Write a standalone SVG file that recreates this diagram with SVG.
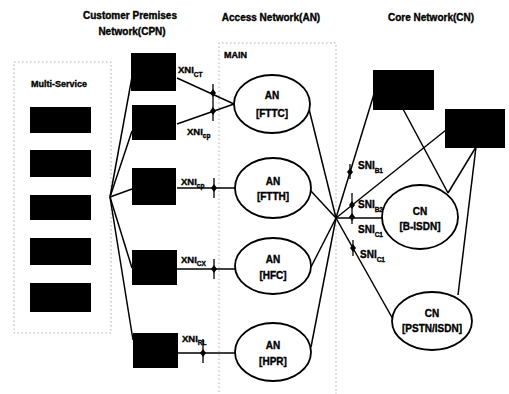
<svg xmlns="http://www.w3.org/2000/svg" width="509" height="394" viewBox="0 0 509 394">
<style>
text{font-family:"Liberation Sans",Arial,sans-serif;font-weight:bold;fill:#000;stroke:#000;stroke-width:0.35}
.h{font-size:10px;text-anchor:middle}
.lbl{font-size:10px;text-anchor:middle}
.x{font-size:9.5px}
.s{font-size:6.5px}
.blk{fill:#000}
.ell{fill:#fff;stroke:#000;stroke-width:1.8}
.ln{stroke:#000;stroke-width:1.5;fill:none}
.box{fill:none;stroke:#9a9a9a;stroke-width:0.8;stroke-dasharray:1.5 2.5}
.tk{stroke:#000;stroke-width:1.3}
</style>
<rect width="509" height="394" fill="#fff"/>
<g id="headers">
<text class="h" x="130" y="19">Customer Premises</text>
<text class="h" x="132" y="35">Network(CPN)</text>
<text class="h" x="271" y="21">Access Network(AN)</text>
<text class="h" x="431" y="21">Core Network(CN)</text>
</g>
<g id="multi-service">
<rect class="box" x="14" y="62" width="97" height="271"/>
<text x="59" y="87" style="font-size:9px;text-anchor:middle">Multi-Service</text>
<rect class="blk" x="30" y="107" width="61" height="26"/>
<rect class="blk" x="30" y="150" width="61" height="27"/>
<rect class="blk" x="30" y="195" width="61" height="25"/>
<rect class="blk" x="30" y="238" width="61" height="27"/>
<rect class="blk" x="30" y="283" width="61" height="29"/>
</g>
<g id="an-main">
<path class="box" d="M219 400 V43 H336 V400"/>
<text x="224" y="58" style="font-size:9px">MAIN</text>
</g>
<g id="connectors">
<line class="ln" x1="110" y1="197" x2="132" y2="77"/>
<line class="ln" x1="110" y1="197" x2="132" y2="131"/>
<line class="ln" x1="110" y1="197" x2="132" y2="189"/>
<line class="ln" x1="110" y1="197" x2="132" y2="268"/>
<line class="ln" x1="110" y1="197" x2="133" y2="340"/>
<line class="ln" x1="177" y1="78" x2="234" y2="104"/>
<line class="ln" x1="177" y1="124" x2="234" y2="104"/>
<line class="ln" x1="177" y1="188" x2="235" y2="188"/>
<line class="ln" x1="177" y1="269" x2="235" y2="269"/>
<line class="ln" x1="178" y1="353" x2="235" y2="353"/>
<line class="ln" x1="336" y1="218" x2="309" y2="109"/>
<line class="ln" x1="336" y1="218" x2="310" y2="190"/>
<line class="ln" x1="336" y1="218" x2="311" y2="267"/>
<line class="ln" x1="336" y1="218" x2="311" y2="347"/>
<line class="ln" x1="336" y1="218" x2="374" y2="94"/>
<line class="ln" x1="336" y1="218" x2="446" y2="130"/>
<line class="ln" x1="336" y1="218" x2="383" y2="218"/>
<line class="ln" x1="336" y1="218" x2="394" y2="321"/>
<line class="ln" x1="403" y1="109" x2="448" y2="193"/>
<line class="ln" x1="476" y1="147" x2="448" y2="193"/>
<line class="ln" x1="476" y1="147" x2="458" y2="295"/>
<line class="tk" x1="213" y1="84" x2="213" y2="121"/>
<path class="blk" d="M213 89 l3 4 l-3 4 l-3 -4z M213 107 l3 4 l-3 4 l-3 -4z"/>
<line class="tk" x1="214" y1="178" x2="214" y2="198"/>
<path class="blk" d="M214 184 l3 4 l-3 4 l-3 -4z"/>
<line class="tk" x1="214" y1="259" x2="214" y2="279"/>
<path class="blk" d="M214 265 l3 4 l-3 4 l-3 -4z"/>
<line class="tk" x1="203" y1="339" x2="203" y2="363"/>
<path class="blk" d="M203 349 l3 4 l-3 4 l-3 -4z"/>
<line class="tk" x1="350" y1="164" x2="350" y2="179"/>
<path class="blk" d="M350 168 l3 4 l-3 4 l-3 -4z"/>
<line class="tk" x1="352" y1="193" x2="352" y2="224"/>
<path class="blk" d="M352 201 l3 4 l-3 4 l-3 -4z M352 213 l3 4 l-3 4 l-3 -4z"/>
<line class="tk" x1="353" y1="240" x2="353" y2="256"/>
<path class="blk" d="M353 244 l3 4 l-3 4 l-3 -4z"/>
</g>
<g id="cpn-labels">
<text class="x" x="178" y="73">XNI<tspan class="s" dy="4">CT</tspan></text>
<text class="x" x="187" y="135">XNI<tspan class="s" dy="3">cp</tspan></text>
<text class="x" x="181" y="185">XNI<tspan class="s" dy="3">cp</tspan></text>
<text class="x" x="181" y="263">XNI<tspan class="s" dy="3">CX</tspan></text>
<text class="x" x="182" y="342">XNI<tspan class="s" dy="3">RL</tspan></text>
</g>
<g id="cpn-1"><rect class="blk" x="131" y="53" width="45" height="38"/></g>
<g id="cpn-2"><rect class="blk" x="132" y="105" width="44" height="35"/></g>
<g id="cpn-3"><rect class="blk" x="132" y="168" width="44" height="37"/></g>
<g id="cpn-4"><rect class="blk" x="132" y="250" width="45" height="35"/></g>
<g id="cpn-5"><rect class="blk" x="133" y="333" width="45" height="35"/></g>
<g id="an-fttc"><ellipse class="ell" cx="272" cy="104" rx="38" ry="29"/><text class="lbl" x="272" y="99">AN</text><text class="lbl" x="272" y="117">[FTTC]</text></g>
<g id="an-ftth"><ellipse class="ell" cx="273" cy="188" rx="38" ry="30"/><text class="lbl" x="273" y="185">AN</text><text class="lbl" x="273" y="200">[FTTH]</text></g>
<g id="an-hfc"><ellipse class="ell" cx="273" cy="266" rx="38" ry="28"/><text class="lbl" x="273" y="263">AN</text><text class="lbl" x="273" y="279">[HFC]</text></g>
<g id="an-hpr"><ellipse class="ell" cx="273" cy="352" rx="38" ry="29"/><text class="lbl" x="273" y="349">AN</text><text class="lbl" x="273" y="365">[HPR]</text></g>
<g id="core-1"><rect class="blk" x="373" y="70" width="61" height="40"/></g>
<g id="core-2"><rect class="blk" x="445" y="109" width="60" height="39"/></g>
<g id="cn-bisdn"><ellipse class="ell" cx="420" cy="217" rx="38" ry="32"/><text class="lbl" x="420" y="215">CN</text><text class="lbl" x="420" y="230">[B-ISDN]</text></g>
<g id="cn-pstn"><ellipse class="ell" cx="432" cy="321" rx="40" ry="29"/><text class="lbl" x="432" y="317">CN</text><text class="lbl" x="432" y="332">[PSTN/ISDN]</text></g>
<g id="sni-labels">
<text class="x" x="358" y="169" style="font-size:10px">SNI<tspan class="s" dy="4">B1</tspan></text>
<text class="x" x="358" y="208" style="font-size:10px">SNI<tspan class="s" dy="4">B2</tspan></text>
<text class="x" x="358" y="233" style="font-size:10px">SNI<tspan class="s" dy="4">C1</tspan></text>
<text class="x" x="360" y="258" style="font-size:10px">SNI<tspan class="s" dy="4">C1</tspan></text>
</g>
</svg>
